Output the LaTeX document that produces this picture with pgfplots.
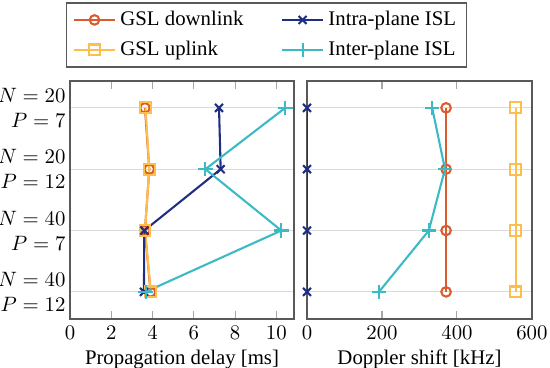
\documentclass[border=0pt]{standalone}
\usepackage{pgfplots}
\pgfplotsset{compat=1.18}
\usepackage{fontspec}
\setmainfont{Liberation Serif}
\definecolor{cdown}{RGB}{218,91,43}
\definecolor{cup}{RGB}{253,190,76}
\definecolor{cintra}{RGB}{30,46,128}
\definecolor{cinter}{RGB}{59,186,198}
\pgfplotsset{
  common/.style={
    scale only axis,
    ymin=-0.44, ymax=3.44, y dir=reverse,
    ytick={0,1,2,3},
    ymajorgrids,
    grid style={black!14, line width=0.6pt},
    ytick style={draw=none},
    xtick style={color=black!35, line width=0.5pt},
    tick align=inside,
    major tick length=4pt,
    axis line style={draw=black!65, line width=0.7pt},
    every axis plot/.append style={line width=1pt},
  },
  sdown/.style={color=cdown, mark=o, mark size=2.3pt, mark options={solid}},
  sup/.style={color=cup, mark=square, mark size=2.6pt, mark options={solid}},
  sintra/.style={color=cintra, mark=x, mark size=2.7pt, mark options={solid}},
  sinter/.style={color=cinter, mark=+, mark size=3.5pt, mark options={solid}},
}
\begin{document}
\begin{tikzpicture}
\useasboundingbox (-33.7pt,-23.6pt) rectangle (230.9pt,153.4pt);
\begin{axis}[common,
  at={(0pt,0pt)}, anchor=south west,
  width=107.7pt, height=114.5pt,
  xmin=0, xmax=10.85,
  xtick={0,2,4,6,8,10},
  yticklabels={{$N=20$\\$P=7$},{$N=20$\\$P=12$},{$N=40$\\$P=7$},{$N=40$\\$P=12$}},
  yticklabel style={align=right, inner xsep=2pt},
  xlabel={Propagation delay [ms]},
  xlabel style={yshift=2pt},
  legend columns=2,
  transpose legend,
  legend cell align=left,
  legend style={at={(0.8774,1.193)}, anchor=center, draw=black!65, line width=0.7pt,
    inner xsep=3pt, inner ysep=2pt, row sep=2pt,
    /tikz/every even column/.append style={column sep=16pt}},
  legend image code/.code={\draw[mark repeat=2,mark phase=2] plot coordinates {(0cm,0cm) (0.35cm,0cm) (0.7cm,0cm)};},
]
\addplot[sdown] coordinates {(3.63,0) (3.84,1) (3.63,2) (3.90,3)};
\addlegendentry{GSL downlink}
\addplot[sup] coordinates {(3.66,0) (3.84,1) (3.63,2) (3.92,3)};
\addlegendentry{GSL uplink}
\addplot[sintra] coordinates {(7.22,0) (7.30,1) (3.60,2) (3.58,3)};
\addlegendentry{Intra-plane ISL}
\addplot[sinter] coordinates {(10.43,0) (6.56,1) (10.24,2) (3.66,3)};
\addlegendentry{Inter-plane ISL}
\end{axis}
\begin{axis}[common,
  at={(114.0pt,0pt)}, anchor=south west,
  width=108.2pt, height=114.5pt,
  xmin=0, xmax=600,
  xtick={0,200,400,600},
  yticklabels={},
  xlabel={Doppler shift [kHz]},
  xlabel style={yshift=2pt},
]
\addplot[sdown] coordinates {(371,0) (371,1) (371,2) (371,3)};
\addplot[sup] coordinates {(557,0) (557,1) (557,2) (557,3)};
\addplot[sintra] coordinates {(0,0) (0,1) (0,2) (0,3)};
\addplot[sinter] coordinates {(334,0) (368,1) (325,2) (192,3)};
\end{axis}
\end{tikzpicture}
\end{document}
